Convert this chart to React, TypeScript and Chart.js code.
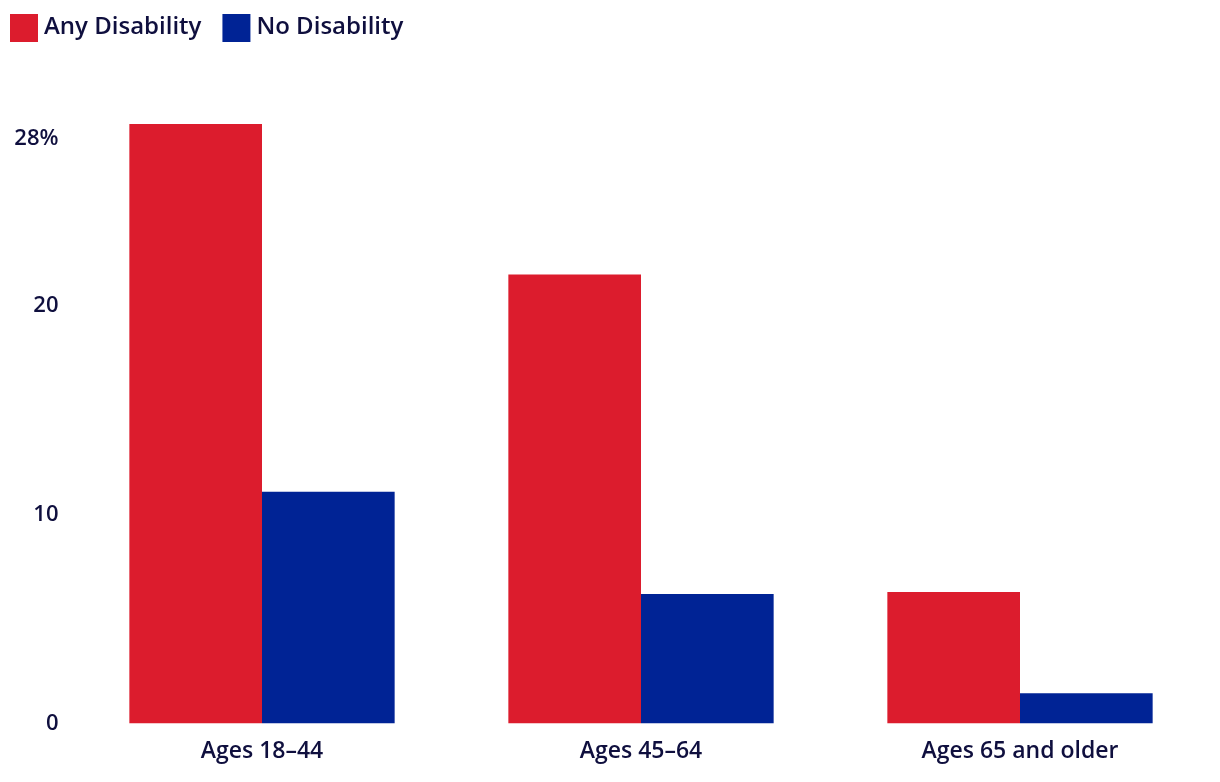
import React, { useEffect, useRef } from "react";
import { Chart, registerables } from "chart.js";

Chart.register(...registerables);

const categories = ["Ages 18\u201344", "Ages 45\u201364", "Ages 65 and older"];
const anyDisability = [28.7, 21.5, 6.3];
const noDisability = [11.1, 6.2, 1.45];
const yTicks = [0, 10, 20, 28];
const seriesLabels = ["Any Disability", "No Disability"];
const colors = ["#DC1C2D", "#002395"];
const textColor = "#0f0f3e";
const fontFamily = "'Open Sans', 'Noto Sans', sans-serif";

const legendPlugin = {
  id: "customLegend",
  afterDraw(chart: any) {
    const ctx = chart.ctx;
    ctx.save();
    ctx.font = `600 24px ${fontFamily}`;
    ctx.textBaseline = "middle";
    ctx.textAlign = "left";
    let x = 10;
    const y = 14;
    const box = 28;
    chart.data.datasets.forEach((ds: any) => {
      ctx.fillStyle = ds.backgroundColor;
      ctx.fillRect(x, y, box, box);
      const tx = x + box + 6;
      ctx.fillStyle = textColor;
      ctx.fillText(ds.label, tx, y + box / 2 - 1);
      x = tx + ctx.measureText(ds.label).width + 21;
    });
    ctx.restore();
  },
};

export default function App() {
  const ref = useRef<HTMLCanvasElement>(null);
  useEffect(() => {
    if (!ref.current) return;
    const chart = new Chart(ref.current, {
      type: "bar",
      data: {
        labels: categories,
        datasets: [
          { label: seriesLabels[0], data: anyDisability, backgroundColor: colors[0] },
          { label: seriesLabels[1], data: noDisability, backgroundColor: colors[1] },
        ],
      },
      options: {
        animation: false,
        responsive: true,
        maintainAspectRatio: false,
        layout: { padding: { top: 124, right: 10.5, left: 0, bottom: 0 } },
        plugins: {
          legend: { display: false },
          tooltip: { enabled: false },
        },
        datasets: { bar: { categoryPercentage: 0.7, barPercentage: 1.0 } },
        scales: {
          x: {
            grid: { display: false },
            border: { display: false },
            ticks: {
              color: textColor,
              font: { family: fontFamily, size: 23, weight: 600 },
              padding: 6,
              maxRotation: 0,
            },
            afterFit(scale: any) {
              scale.height = 58.5;
            },
          },
          y: {
            min: 0,
            max: 28.7,
            grid: { display: false },
            border: { display: false },
            afterBuildTicks(scale: any) {
              scale.ticks = yTicks.map((v) => ({ value: v }));
            },
            afterFit(scale: any) {
              scale.width = 72.5;
            },
            ticks: {
              color: textColor,
              font: { family: fontFamily, size: 22, weight: 600 },
              padding: 6,
              callback: (v: any) => (Number(v) === 28 ? "28%" : String(v)),
            },
          },
        },
      },
      plugins: [legendPlugin],
    });
    return () => chart.destroy();
  }, []);
  return (
    <div style={{ position: "fixed", left: 0, top: 0, width: 1220, height: 782, background: "#fff" }}>
      <canvas ref={ref} />
    </div>
  );
}
